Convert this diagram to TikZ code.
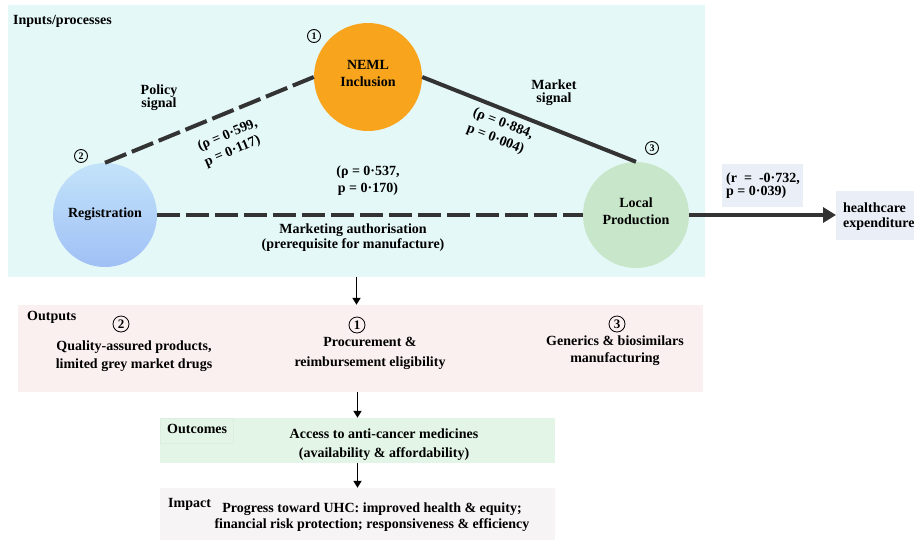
\documentclass[tikz,border=0pt]{standalone}
\usepackage{fontspec}
\setmainfont{Liberation Serif}
\usetikzlibrary{arrows.meta}
\definecolor{panelc}{HTML}{E5F8F8}
\definecolor{nemlc}{HTML}{F8A51D}
\definecolor{regtop}{HTML}{C3E3FA}
\definecolor{regbot}{HTML}{A0C0F6}
\definecolor{lpc}{HTML}{C8E6C9}
\definecolor{boxc}{HTML}{E9EEF7}
\definecolor{outc}{HTML}{FBF0F0}
\definecolor{occ}{HTML}{E3F5E6}
\definecolor{occb}{HTML}{DCEFDF}
\definecolor{impc}{HTML}{F7F4F6}
\definecolor{linec}{HTML}{333333}
\begin{document}
\begin{tikzpicture}[x=1pt,y=-1pt,
  every node/.style={font=\fontsize{14}{17}\selectfont\bfseries, text=black, inner sep=0pt},
  bigc/.style={circle, inner sep=0pt},
  numc/.style={circle, draw=black, line width=0.9pt, inner sep=0pt, minimum size=13pt, font=\fontsize{10}{10}\selectfont\bfseries},
  numb/.style={circle, draw=black, line width=0.8pt, inner sep=0pt, minimum size=16pt, font=\fontsize{13}{13}\selectfont\bfseries},
  dashline/.style={line width=4pt, draw=linec, dash pattern=on 23pt off 6pt},
  solidline/.style={line width=4pt, draw=linec},
  bigarrow/.style={line width=4pt, draw=linec, -{Triangle[length=13pt,width=15pt]}},
  downarrow/.style={line width=1.8pt, draw=black, -{Triangle[length=7pt,width=8pt]}},
  tight/.style={align=center, font=\fontsize{14}{13}\selectfont\bfseries},
  lbl/.style={align=center}
]
\useasboundingbox (0,0) rectangle (914,539);

% panels
\node[fill=panelc, minimum width=697pt, minimum height=272pt] (panel) at (356.5,141) {};
\node[fill=outc, minimum width=685pt, minimum height=87pt] (outbox) at (360.5,348.5) {};
\node[fill=occ, minimum width=395pt, minimum height=45pt] (ocbox) at (357.5,440.5) {};
\node[fill=impc, minimum width=395pt, minimum height=57pt] (impbox) at (357.5,516.5) {};
\node[draw=occb, line width=0.4pt, minimum width=73pt, minimum height=25pt] (ocl) at (196.5,430.5) {};

\node[anchor=base west] (inp) at (13,24) {Inputs/processes};

% big circles
\node[bigc, fill=nemlc, minimum size=108pt] (neml) at (368,77) {};
\node[bigc, minimum size=104pt, top color=regtop, bottom color=regbot] (reg) at (105,215) {};
\node[bigc, fill=lpc, minimum size=106pt] (lp) at (636,215) {};
\node[lbl] (nemlt) at (368,73) {NEML\\Inclusion};
\node[lbl] (regt) at (105,214.5) {Registration};
\node[lbl] (lpt) at (636,211) {Local\\Production};

\node[numc] (n1) at (314,36) {1};
\node[numc] (n2) at (81,156) {2};
\node[numc] (n3) at (652,148) {3};

% connectors
\draw[dashline] (reg.north) -- (neml.west);
\draw[solidline] (neml.east) -- (lp.north);
\draw[dashline] (reg.east) -- (lp.west);

\node[tight] (pol) at (159,97.5) {Policy\\signal};
\node[tight] (mkt) at (554,92.5) {Market\\signal};
\node[align=left, rotate=23] (rho1) at (231,143) {(ρ = 0·599,\\p = 0·117)};
\node[align=left, rotate=-21] (rho2) at (500,132) {(ρ = 0·884,\\p = 0·004)};
\node[lbl] (rho3) at (368,180.5) {(ρ = 0·537,\\p = 0·170)};
\node[align=center, font=\fontsize{14}{15}\selectfont\bfseries] (mauth) at (353,237.5) {Marketing authorisation\\(prerequisite for manufacture)};

% correlation with expenditure
\node[fill=boxc, minimum width=81pt, minimum height=43pt] (rbox) at (762.5,185.5) {};
\node[align=left, font=\fontsize{14}{12}\selectfont\bfseries] (rtxt) at (763,185.5) {(r~ =~ -0·732,\\p = 0·039)};
\node[fill=boxc, anchor=west, minimum height=49pt, minimum width=90pt] (he) at (836,215) {};
\node[anchor=west, align=left, font=\fontsize{14}{15}\selectfont\bfseries] (het) at (843,217) {healthcare\\expenditure};
\draw[bigarrow] (lp.east) -- (he.west);

% down arrows
\draw[downarrow] (panel.south) -- (panel.south |- outbox.north);
\draw[downarrow] (ocbox.north |- outbox.south) -- (ocbox.north);
\draw[downarrow] (ocbox.south) -- (impbox.north);

% outputs
\node[anchor=base west] (outl) at (27,320) {Outputs};
\node[numb] (o2) at (121,324) {2};
\node[numb] (o1) at (357,325) {1};
\node[numb] (o3) at (617,324) {3};
\node[align=center, font=\fontsize{14}{18}\selectfont\bfseries] (q) at (134,356) {Quality-assured products,\\limited grey market drugs};
\node[align=center, font=\fontsize{14}{20}\selectfont\bfseries] (proc) at (370,353) {Procurement \&\\reimbursement eligibility};
\node[align=center, font=\fontsize{14}{17}\selectfont\bfseries] (gen) at (615,350.5) {Generics \& biosimilars\\manufacturing};

% outcomes
\node[anchor=base west] (ocl2) at (167,433) {Outcomes};
\node[align=center, font=\fontsize{14}{19}\selectfont\bfseries] (acc) at (384,444.5) {Access to anti-cancer medicines\\(availability \& affordability)};

% impact
\node[anchor=base west] (impl) at (168,507) {Impact};
\node[align=center, font=\fontsize{14}{16.5}\selectfont\bfseries] (prog) at (372,517) {Progress toward UHC: improved health \& equity;\\financial risk protection; responsiveness \& efficiency};
\end{tikzpicture}
\end{document}
